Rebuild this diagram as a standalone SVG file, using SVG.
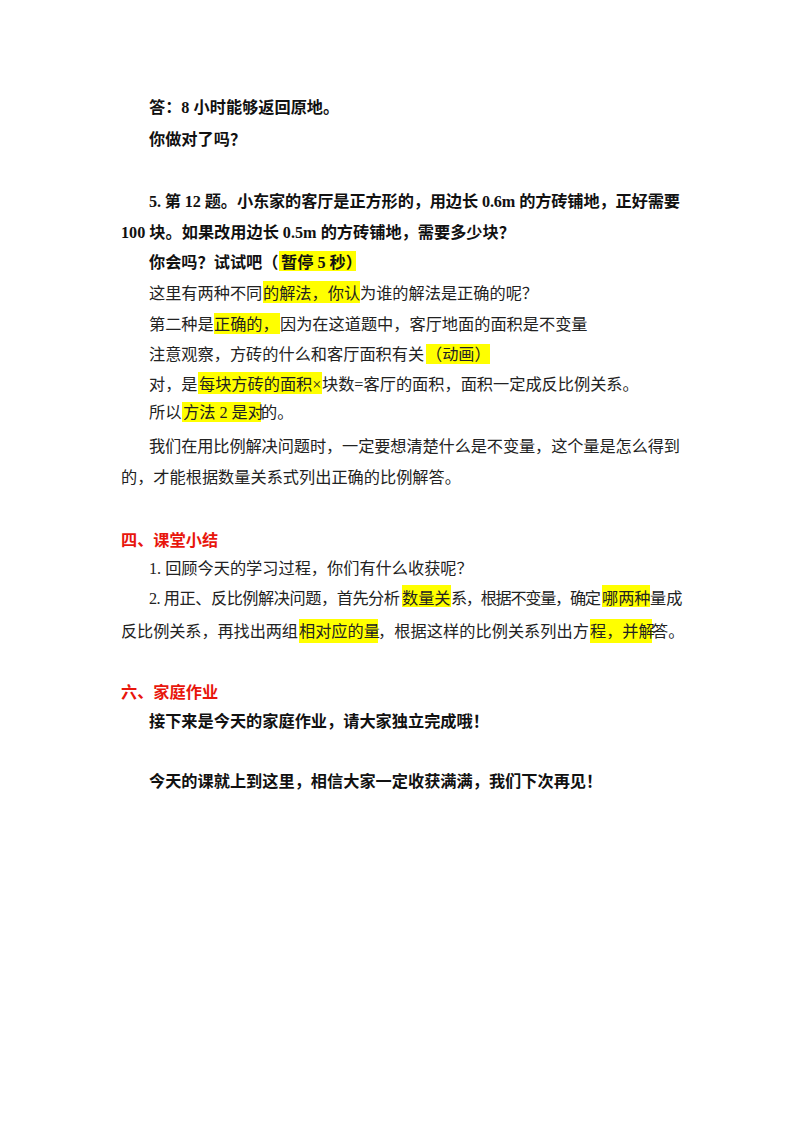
<svg xmlns="http://www.w3.org/2000/svg" width="800" height="1132" viewBox="0 0 800 1132">
<style>
text{font-family:"Liberation Serif","Noto Sans CJK SC",serif;font-size:16.2px;fill:#222}
.b{font-weight:bold;fill:#111}
.r{font-weight:bold;fill:#e8160c}
.h{fill:#ffff00}
</style>
<rect width="800" height="1132" fill="#fff"/>
<g id="highlights">
<rect class="h" x="279" y="251" width="77" height="20"/>
<rect class="h" x="263" y="281" width="97" height="22"/>
<rect class="h" x="214" y="313" width="66" height="21"/>
<rect class="h" x="426" y="344" width="64" height="20"/>
<rect class="h" x="198" y="372" width="124" height="22"/>
<rect class="h" x="182" y="402" width="79" height="20"/>
<rect class="h" x="402" y="585" width="49" height="22"/>
<rect class="h" x="602" y="585" width="48" height="22"/>
<rect class="h" x="299" y="619" width="79" height="24"/>
<rect class="h" x="590" y="619" width="62" height="24"/>
</g>
<text class="b" x="149" y="113">答：8 小时能够返回原地。</text>
<text class="b" x="149" y="145">你做对了吗？</text>
<text class="b" x="149" y="207" textLength="531" lengthAdjust="spacing">5. 第 12 题。小东家的客厅是正方形的，用边长 0.6m 的方砖铺地，正好需要</text>
<text class="b" x="121" y="238">100 块。如果改用边长 0.5m 的方砖铺地，需要多少块？</text>
<text class="b" x="149" y="268">你会吗？试试吧（<tspan x="281">暂停 5 秒）</tspan></text>
<text x="149" y="299">这里有两种不同<tspan x="263">的解法，你认</tspan><tspan x="360">为谁的解法是正确的呢？</tspan></text>
<text x="149" y="330">第二种是<tspan x="214">正确的，</tspan><tspan x="280">因为在这道题中，客厅地面的面积是不变量</tspan></text>
<text x="149" y="360">注意观察，方砖的什么和客厅面积有关<tspan x="426">（动画）</tspan></text>
<text x="149" y="390">对，是<tspan x="199">每块方砖的面积×</tspan><tspan x="322">块数=客厅的面积，面积一定成反比例关系。</tspan></text>
<text x="149" y="418">所以<tspan x="183">方法 2 是对</tspan><tspan x="261">的。</tspan></text>
<text x="149" y="452" textLength="531" lengthAdjust="spacing">我们在用比例解决问题时，一定要想清楚什么是不变量，这个量是怎么得到</text>
<text x="121" y="483">的，才能根据数量关系式列出正确的比例解答。</text>
<text class="r" x="121" y="546">四、课堂小结</text>
<text x="149" y="574">1. 回顾今天的学习过程，你们有什么收获呢？</text>
<text x="149" y="604"><tspan textLength="251" lengthAdjust="spacing">2. 用正、反比例解决问题，首先分析</tspan><tspan x="402">数量关</tspan><tspan x="451" textLength="150" lengthAdjust="spacing">系，根据不变量，确定</tspan><tspan x="602">哪两种</tspan><tspan x="650">量成</tspan></text>
<text x="121" y="637"><tspan textLength="177" lengthAdjust="spacing">反比例关系，再找出两组</tspan><tspan x="299">相对应的量</tspan><tspan x="378" textLength="211" lengthAdjust="spacing">，根据这样的比例关系列出方</tspan><tspan x="590">程，并解</tspan><tspan x="652">答。</tspan></text>
<text class="r" x="121" y="698">六、家庭作业</text>
<text class="b" x="149" y="727">接下来是今天的家庭作业，请大家独立完成哦！</text>
<text class="b" x="149" y="787">今天的课就上到这里，相信大家一定收获满满，我们下次再见！</text>
</svg>
